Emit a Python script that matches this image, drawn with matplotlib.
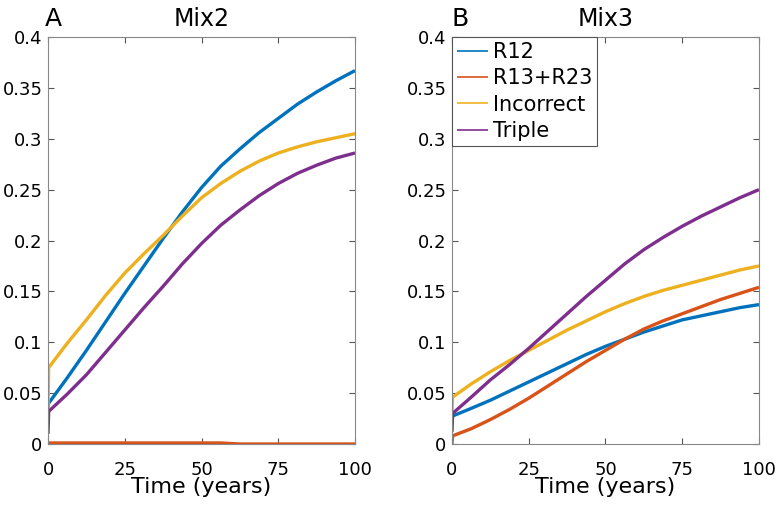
import matplotlib.pyplot as plt

# time points (years); the first point of each series is the jump at t=0
t = [0, 0.2, 6.25, 12.5, 18.75, 25, 31.25, 37.5, 43.75, 50,
     56.25, 62.5, 68.75, 75, 81.25, 87.5, 93.75, 100]

# Mix2
mix2_r12 = [0.035, 0.040, 0.065, 0.092, 0.120, 0.148, 0.175, 0.202, 0.228, 0.252,
            0.273, 0.290, 0.306, 0.320, 0.334, 0.346, 0.357, 0.367]
mix2_r13r23 = [0.001, 0.001, 0.001, 0.001, 0.001, 0.001, 0.001, 0.001, 0.001, 0.001,
               0.001, 0.0, 0.0, 0.0, 0.0, 0.0, 0.0, 0.0]
mix2_incorrect = [0.035, 0.075, 0.099, 0.122, 0.146, 0.168, 0.187, 0.205, 0.224, 0.242,
                  0.256, 0.268, 0.278, 0.286, 0.292, 0.297, 0.301, 0.305]
mix2_triple = [0.010, 0.032, 0.049, 0.068, 0.090, 0.112, 0.134, 0.155, 0.177, 0.197,
               0.215, 0.230, 0.244, 0.256, 0.266, 0.274, 0.281, 0.286]

# Mix3
mix3_r12 = [0.020, 0.0275, 0.035, 0.043, 0.052, 0.061, 0.070, 0.079, 0.088, 0.096,
            0.103, 0.110, 0.116, 0.122, 0.126, 0.130, 0.134, 0.137]
mix3_r13r23 = [0.0, 0.008, 0.015, 0.024, 0.034, 0.045, 0.057, 0.069, 0.081, 0.092,
               0.103, 0.113, 0.121, 0.128, 0.135, 0.142, 0.148, 0.154]
mix3_incorrect = [0.032, 0.046, 0.059, 0.071, 0.082, 0.092, 0.102, 0.112, 0.121, 0.130,
                  0.138, 0.145, 0.151, 0.156, 0.161, 0.166, 0.171, 0.175]
mix3_triple = [0.012, 0.030, 0.046, 0.063, 0.078, 0.094, 0.111, 0.128, 0.145, 0.161,
               0.177, 0.191, 0.203, 0.214, 0.224, 0.233, 0.242, 0.250]

labels = ["R12", "R13+R23", "Incorrect", "Triple"]
colors = ["#0072BD", "#D95319", "#EDB120", "#7E2F8E"]

xticks = [0, 25, 50, 75, 100]
yticks = [0, 0.05, 0.1, 0.15, 0.2, 0.25, 0.3, 0.35, 0.4]
ytick_labels = ["0", "0.05", "0.1", "0.15", "0.2", "0.25", "0.3", "0.35", "0.4"]

fig = plt.figure(figsize=(7.77, 5.05), dpi=100)
ax1 = fig.add_axes([0.0618, 0.1208, 0.3951, 0.8059])
ax2 = fig.add_axes([0.5817, 0.1208, 0.3951, 0.8059])

panels = [
    (ax1, "Mix2", "A", -0.01, [mix2_r12, mix2_r13r23, mix2_incorrect, mix2_triple]),
    (ax2, "Mix3", "B", 0.0, [mix3_r12, mix3_r13r23, mix3_incorrect, mix3_triple]),
]

for ax, title, letter, lx, series in panels:
    for ys, lab, c in zip(series, labels, colors):
        ax.plot(t, ys, color=c, lw=2.4, label=lab, solid_capstyle="butt")
    ax.set_xlim(0, 100)
    ax.set_ylim(0, 0.4)
    ax.set_xticks(xticks)
    ax.set_yticks(yticks)
    ax.set_yticklabels(ytick_labels)
    ax.tick_params(direction="in", top=True, right=True, labelsize=13,
                   length=4, color="#555555")
    ax.tick_params(axis="x", pad=12)
    ax.tick_params(axis="y", pad=4)
    for s in ax.spines.values():
        s.set_color("#888888")
    ax.set_title(title, fontsize=17, pad=8)
    ax.set_xlabel("Time (years)", fontsize=16, labelpad=-1)
    ax.text(lx, 1.015, letter, transform=ax.transAxes, fontsize=18,
            ha="left", va="bottom")

leg = ax2.legend(loc="upper left", bbox_to_anchor=(0, 1), fontsize=15,
                 handlelength=1.5, handletextpad=0.2, borderpad=0.25,
                 labelspacing=0.3, borderaxespad=0, fancybox=False,
                 framealpha=1)
leg.get_frame().set_edgecolor("#555555")
leg.get_frame().set_linewidth(0.8)
for h in leg.get_lines():
    h.set_linewidth(1.2)

fig.savefig("out.png", dpi=100)
